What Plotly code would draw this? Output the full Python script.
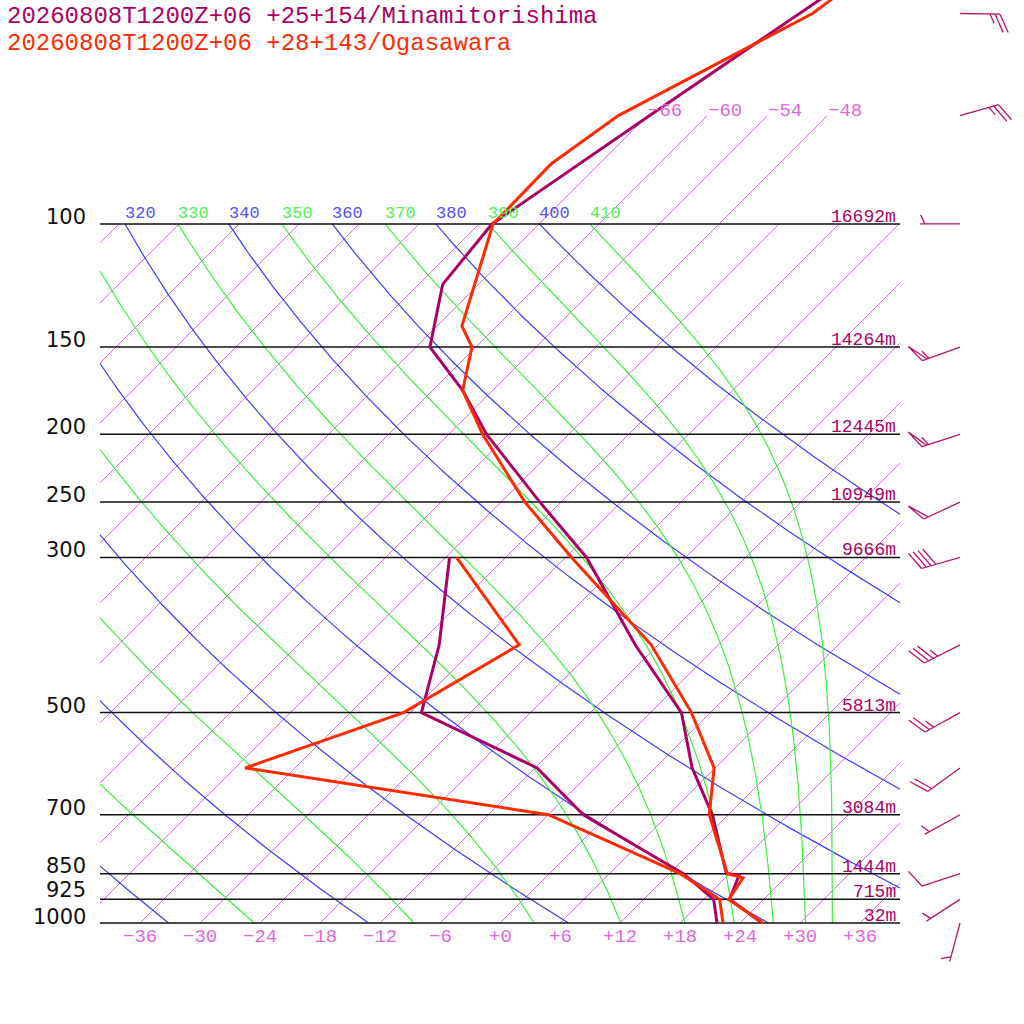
import numpy as np
import plotly.graph_objects as go

# ---- soundings 2026-08-08 12Z +06h (hPa, degC) ----
mina_p = [1000, 925, 886, 853, 850, 700, 600, 500, 400, 300, 250, 200, 173, 150, 122, 100, 70, 50, 30]
mina_t = [26.2, 20.6, 19.8, 19.1, 17.7, 10.4, 3.7, -2.9, -14.3, -27.9, -38.1, -50.2, -57.0, -64.6, -69.6,
          -70.7, -65.8, -61.0, -53.7]
mina_td_p = [1000, 925, 850, 700, 600, 500, 400, 300]
mina_td = [21.7, 19.0, 13.4, -2.5, -11.8, -28.9, -33.9, -41.6]

ogas_p = [1000, 925, 862, 850, 700, 600, 500, 400, 300, 250, 200, 173, 150, 140, 100, 82, 70, 50, 30]
ogas_t = [26.3, 20.5, 19.8, 17.8, 10.1, 5.9, -1.9, -12.7, -29.4, -39.6, -50.6, -57.0, -60.4, -63.5,
          -70.6, -70.8, -68.9, -59.7, -54.3]
ogas_td_p = [1000, 925, 850, 700, 600, 500, 400, 300]
ogas_td = [22.3, 19.6, 13.1, -6.0, -41.0, -30.7, -25.9, -40.9]

# standard levels + Minamitorishima heights
levels = [100, 150, 200, 250, 300, 500, 700, 850, 925, 1000]
heights = ["16692m", "14264m", "12445m", "10949m", "9666m", "5813m", "3084m", "1444m", "715m", "32m"]

# Minamitorishima winds (deg, kt)
wind_p = [1000, 925, 850, 700, 600, 500, 400, 300, 250, 200, 150, 100, 70, 50]
wind_dir = [195, 237, 252, 241, 234, 241, 243, 254, 245, 252, 250, 270, 74, 91]
wind_kt = [5, 5, 10, 5, 20, 25, 35, 40, 50, 55, 55, 5, 25, 25]

# background lines
isotherms = list(range(-150, 41, 6))
top_isotherms = [-66, -60, -54, -48]
temp_ticks = list(range(-36, 37, 6))
dry_thetas = list(range(240, 401, 20))
moist_thetaes = list(range(250, 411, 20))

titles = ["20260808T1200Z+06 +25+154/Minamitorishima", "20260808T1200Z+06 +28+143/Ogasawara"]

PURPLE = "#aa0066"
RED = "#ff2a00"
MONO = "Liberation Mono, DejaVu Sans Mono, monospace"

SKEW = 30.36      # deg of skew per ln(p) unit (45 degree isotherms)
DEC_PX = 699.07   # screen px per decade of pressure
BARB_X = 46       # x position of wind barbs (diagram units)


def skew_x(t, p):
    return np.asarray(t, float) + SKEW * np.log(1000.0 / np.asarray(p, float))


def clip(xs, ps, lo=-40, hi=40):
    # keep the part of a curve inside the diagram, cut where it hits the sides
    ox, op = [], []
    lnp = np.log(ps)
    inside = (xs >= lo) & (xs <= hi)
    for i in range(len(xs)):
        if inside[i]:
            if i > 0 and not inside[i - 1]:
                edge = lo if xs[i - 1] < lo else hi
                f = (edge - xs[i - 1]) / (xs[i] - xs[i - 1])
                ox.append(edge)
                op.append(np.exp(lnp[i - 1] + f * (lnp[i] - lnp[i - 1])))
            ox.append(xs[i])
            op.append(ps[i])
        elif i > 0 and inside[i - 1]:
            edge = lo if xs[i] < lo else hi
            f = (edge - xs[i - 1]) / (xs[i] - xs[i - 1])
            ox.append(edge)
            op.append(np.exp(lnp[i - 1] + f * (lnp[i] - lnp[i - 1])))
            ox.append(None)
            op.append(None)
    ox.append(None)
    op.append(None)
    return ox, op


def theta_e(tc, p):
    # Bolton (1980), saturated air
    es = 6.112 * np.exp(17.67 * tc / (tc + 243.5))
    r = 622.0 * es / (p - es)
    tk = tc + 273.15
    return tk * (1000.0 / p) ** (0.2854 * (1 - 0.00028 * r)) * np.exp((3.376 / tk - 0.00254) * r * (1 + 0.00081 * r))


def moist_temp(te, p):
    lo = np.full_like(p, -160.0)
    hi = np.full_like(p, 40.0)
    for _ in range(50):
        mid = (lo + hi) / 2
        big = theta_e(mid, p) > te
        hi = np.where(big, mid, hi)
        lo = np.where(big, lo, mid)
    return (lo + hi) / 2


def barb(p0, wdir, kt):
    # segments in screen px (y down) from the base, then mapped to data
    a = np.radians(wdir)
    ux, uy = np.sin(a), -np.cos(a)
    t = np.radians(65)
    vx, vy = ux * np.cos(t) - uy * np.sin(t), ux * np.sin(t) + uy * np.cos(t)
    segs = [[(0, 0), (40 * ux, 40 * uy)]]
    n50, rest = divmod(int(round(kt / 5.0)) * 5, 50)
    n10, n5 = divmod(rest, 10)
    n5 //= 5
    d = 40
    if n50 == 0 and n10 == 0:
        d -= 5
    for _ in range(n50):
        segs.append([(d * ux, d * uy), (d * ux + 20 * vx, d * uy + 20 * vy), ((d - 5) * ux, (d - 5) * uy)])
        d -= 7
    for _ in range(n10):
        segs.append([(d * ux, d * uy), (d * ux + 20 * vx, d * uy + 20 * vy)])
        d -= 5
    for _ in range(n5):
        segs.append([(d * ux, d * uy), (d * ux + 10 * vx, d * uy + 10 * vy)])
    bx, bp = [], []
    for s in segs:
        for dx, dy in s:
            bx.append(BARB_X + dx / 10.0)
            bp.append(p0 * 10 ** (dy / DEC_PX))
        bx.append(None)
        bp.append(None)
    return bx, bp


fig = go.Figure()

# isotherms
ix, ip = [], []
for t in isotherms:
    ptop = 70 if t in top_isotherms else 100
    pp = np.exp(np.linspace(np.log(1000), np.log(ptop), 60))
    a, b = clip(skew_x(t, pp), pp)
    ix += a
    ip += b
fig.add_trace(go.Scatter(x=ix, y=ip, mode="lines", line=dict(color="#d65ee8", width=0.9), hoverinfo="skip"))

# dry adiabats
pp = np.exp(np.linspace(np.log(1000), np.log(100), 300))
dx_, dp_ = [], []
for th in dry_thetas:
    tc = th * (pp / 1000.0) ** 0.2857 - 273.15
    a, b = clip(skew_x(tc, pp), pp)
    dx_ += a
    dp_ += b
fig.add_trace(go.Scatter(x=dx_, y=dp_, mode="lines", line=dict(color="#3c3cff", width=1.2), hoverinfo="skip"))

# moist adiabats
mx, mp = [], []
for te in moist_thetaes:
    tc = moist_temp(te, pp)
    a, b = clip(skew_x(tc, pp), pp)
    mx += a
    mp += b
fig.add_trace(go.Scatter(x=mx, y=mp, mode="lines", line=dict(color="#3cf03c", width=1.2), hoverinfo="skip"))

# standard level lines
hx, hp = [], []
for lv in levels:
    hx += [-40, 40, None]
    hp += [lv, lv, None]
fig.add_trace(go.Scatter(x=hx, y=hp, mode="lines", line=dict(color="#111111", width=1.5), hoverinfo="skip"))

# soundings
fig.add_trace(go.Scatter(x=skew_x(mina_td, mina_td_p), y=mina_td_p, mode="lines", line=dict(color=PURPLE, width=3)))
fig.add_trace(go.Scatter(x=skew_x(mina_t, mina_p), y=mina_p, mode="lines", line=dict(color=PURPLE, width=3)))
fig.add_trace(go.Scatter(x=skew_x(ogas_td, ogas_td_p), y=ogas_td_p, mode="lines", line=dict(color=RED, width=3)))
fig.add_trace(go.Scatter(x=skew_x(ogas_t, ogas_p), y=ogas_p, mode="lines", line=dict(color=RED, width=3)))

# wind barbs
wx, wp = [], []
for p0, wd, ws in zip(wind_p, wind_dir, wind_kt):
    a, b = barb(p0, wd, ws)
    wx += a
    wp += b
fig.add_trace(go.Scatter(x=wx, y=wp, mode="lines", line=dict(color="#b8146e", width=1.3), hoverinfo="skip"))

ann = []
for i, txt in enumerate(titles):
    ann.append(dict(x=7 / 1024, y=1 - (16 + 27 * i) / 1024, xref="paper", yref="paper", text=txt,
                    showarrow=False, xanchor="left", yanchor="middle", borderpad=0, borderwidth=0,
                    font=dict(family=MONO, size=24, color=[PURPLE, RED][i])))
# pressure labels: small nudges keep 850/925/1000 apart
p_shift = {850: -4, 925: -3, 1000: -6}
for lv, h in zip(levels, heights):
    ann.append(dict(x=-41.4, y=np.log10(lv), text=str(lv), showarrow=False, xanchor="right", yanchor="bottom",
                    yshift=p_shift.get(lv, -5), borderpad=0, borderwidth=0,
                    font=dict(family="DejaVu Sans", size=21, color="#111111")))
    ann.append(dict(x=39.6, y=np.log10(lv), text=h, showarrow=False, xanchor="right", yanchor="bottom",
                    yshift=-3, borderpad=0, borderwidth=0, font=dict(family=MONO, size=18, color=PURPLE)))
for t in temp_ticks:
    lab = ("+" if t >= 0 else "") + str(t)
    ann.append(dict(x=t, y=3, text=lab.replace("-", "\u2212"), showarrow=False, xanchor="center",
                    yanchor="middle", yshift=-14, font=dict(family=MONO, size=19, color="#e066e0")))
for t in top_isotherms:
    ann.append(dict(x=float(skew_x(t, 70)), y=np.log10(70), text=str(t).replace("-", "\u2212"), showarrow=False,
                    xanchor="left", yanchor="bottom", yshift=-8, xshift=-1,
                    font=dict(family=MONO, size=19, color="#e066e0")))
for th in dry_thetas:
    x100 = float(skew_x(th * 0.1 ** 0.2857 - 273.15, 100))
    if -40 <= x100 <= 40:
        ann.append(dict(x=x100, y=2, text=str(th), showarrow=False, xanchor="left", yanchor="bottom",
                        xshift=-2, yshift=-1, font=dict(family=MONO, size=17, color="#5252f6")))
for te in moist_thetaes:
    x100 = float(skew_x(moist_temp(te, np.array([100.0]))[0], 100))
    if -40 <= x100 <= 40:
        ann.append(dict(x=x100, y=2, text=str(te), showarrow=False, xanchor="left", yanchor="bottom",
                        xshift=-2, yshift=-1, font=dict(family=MONO, size=17, color="#52f052")))

fig.update_layout(
    width=1024, height=1024,
    margin=dict(l=0, r=0, t=0, b=0),
    paper_bgcolor="white", plot_bgcolor="white",
    showlegend=False,
    annotations=ann,
    xaxis=dict(range=[-50, 52.4], visible=False, fixedrange=True),
    yaxis=dict(type="log", range=[3 + 101 / DEC_PX, 3 - 923 / DEC_PX], visible=False, fixedrange=True),
)

fig.write_html("out.html", config={"displayModeBar": False}, post_script="document.body.style.margin='0';")
